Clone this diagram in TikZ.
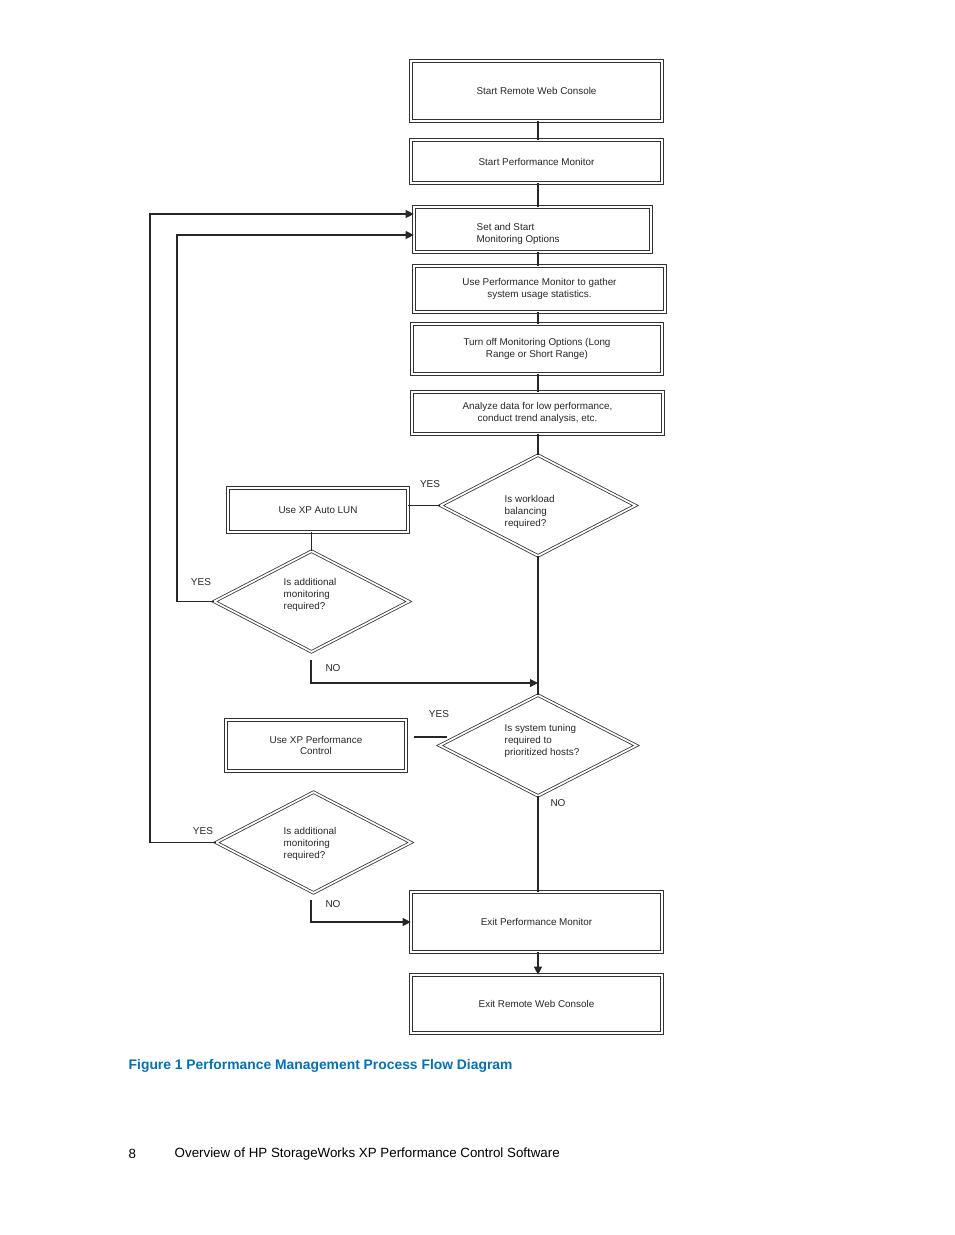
\documentclass[tikz,border=0pt]{standalone}
\usepackage{fontspec}
\setmainfont{Liberation Sans}
\usetikzlibrary{shapes.geometric,arrows.meta}
\definecolor{hpblue}{RGB}{0,114,188}
\begin{document}
\begin{tikzpicture}[x=0.75pt,y=-0.75pt,
  box/.style={draw=black!80,double,double distance=1.6pt,line width=0.6pt,inner sep=0},
  dia/.style={draw=black!80,double,double distance=1.3pt,line width=0.6pt,diamond,inner sep=0},
  txt/.style={font=\fontsize{7.4}{8.8}\selectfont,align=center,text=black!85},
  ln/.style={draw=black!85,line width=0.8pt},
  arr/.style={ln,-{Triangle[length=6pt,width=6pt]}},
  lab/.style={font=\fontsize{7.5}{9}\selectfont,text=black!85}]
\useasboundingbox (0,0) rectangle (954,1235);
\def\bx#1#2#3#4{\node[box,minimum width=#3*0.75pt-1.6pt,minimum height=#4*0.75pt-1.6pt] (#1) at (#2) {};}
\bx{b1}{536.5,91}{253}{62}
\bx{b2}{536.5,161.5}{253}{45}
\bx{b3}{532.5,229.5}{239}{47}
\bx{b4}{539.5,289}{253}{48}
\bx{b5}{537,349}{252}{52}
\bx{b6}{537.5,413}{253}{44}
\bx{lun}{318,510}{182}{46}
\bx{pc}{316,745.5}{182}{53}
\bx{e1}{536.5,922}{253}{62}
\bx{e2}{536.5,1004}{253}{60}
\node[txt] at (b1) {Start Remote Web Console};
\node[txt] at (b2) {Start Performance Monitor};
\node[txt,align=left,anchor=west] at (472,234) {Set and Start\\Monitoring Options};
\node[txt] at (b4) {Use Performance Monitor to gather\\system usage statistics.};
\node[txt] at (b5) {Turn off Monitoring Options (Long\\Range or Short Range)};
\node[txt] at (b6) {Analyze data for low performance,\\conduct trend analysis, etc.};
\node[txt] at (lun) {Use XP Auto LUN};
\node[txt] at (pc) {Use XP Performance\\Control};
\node[txt] at (e1) {Exit Performance Monitor};
\node[txt] at (e2) {Exit Remote Web Console};
\node[dia,minimum width=195*0.75pt,minimum height=101*0.75pt,aspect=1.93] (d1) at (538,505.5) {};
\node[dia,minimum width=195*0.75pt,minimum height=101*0.75pt,aspect=1.93] (d2) at (311.5,601.5) {};
\node[dia,minimum width=197*0.75pt,minimum height=101*0.75pt,aspect=1.95] (d3) at (538,745.5) {};
\node[dia,minimum width=195*0.75pt,minimum height=101*0.75pt,aspect=1.93] (d4) at (313.5,842.5) {};
\node[txt,align=left,anchor=north west] at (500,491) {Is workload\\balancing\\required?};
\node[txt,align=left,anchor=north west] at (279,574) {Is additional\\monitoring\\required?};
\node[txt,align=left,anchor=north west] at (500,720) {Is system tuning\\required to\\prioritized hosts?};
\node[txt,align=left,anchor=north west] at (279,823) {Is additional\\monitoring\\required?};
\node[lab] at (430,484) {YES};
\node[lab] at (201,582) {YES};
\node[lab] at (333,668) {NO};
\node[lab] at (439,714) {YES};
\node[lab] at (558,803) {NO};
\node[lab] at (203,831) {YES};
\node[lab] at (333,904) {NO};
% main spine
\coordinate (sx) at (538,0);
\draw[ln] (b1.south -| sx) -- (b2.north -| sx);
\draw[ln] (b2.south -| sx) -- (b3.north -| sx);
\draw[ln] (b3.south -| sx) -- (b4.north -| sx);
\draw[ln] (b4.south -| sx) -- (b5.north -| sx);
\draw[ln] (b5.south -| sx) -- (b6.north -| sx);
\draw[ln] (b6.south -| sx) -- (d1.north);
\draw[ln] (d1.west) -- (lun.east |- d1.west);
\draw[ln] (lun.south -| d2.north) -- (d2.north);
\draw[ln] (d1.south) -- (d3.north);
\coordinate (n1a) at (311,660);
\coordinate (n1b) at (311,683);
\coordinate (n1c) at (538,683);
\draw[arr] (n1a) -- (n1b) -- (n1c);
\coordinate (y3) at (414,737);
\draw[ln] (d3.west |- y3) ++(8,0) -- (y3);
\draw[ln] (d3.south) -- (e1.north -| d3.south);
\draw[arr] (e1.south -| sx) -- (e2.north -| sx);
\coordinate (n4a) at (311,900);
\coordinate (n4b) at (311,922);
\draw[arr] (n4a) -- (n4b) -- (e1.west |- n4b);
% loops
\coordinate (l1) at (177,601.5);
\coordinate (l1t) at (177,235);
\draw[arr] (d2.west) -- (l1) -- (l1t) -- (b3.west |- l1t);
\coordinate (l2) at (150,842.5);
\coordinate (l2t) at (150,214);
\draw[arr] (d4.west) -- (l2) -- (l2t) -- (b3.west |- l2t);
% caption
\node[anchor=west,text=hpblue,font=\fontsize{10.4}{13}\selectfont\bfseries] at (124,1066) {Figure 1 Performance Management Process Flow Diagram};
\node[anchor=west,font=\fontsize{10}{12}\selectfont] at (124,1154) {8};
\node[anchor=west,font=\fontsize{10}{12}\selectfont] at (170,1154) {Overview of HP StorageWorks XP Performance Control Software};
\end{tikzpicture}
\end{document}
